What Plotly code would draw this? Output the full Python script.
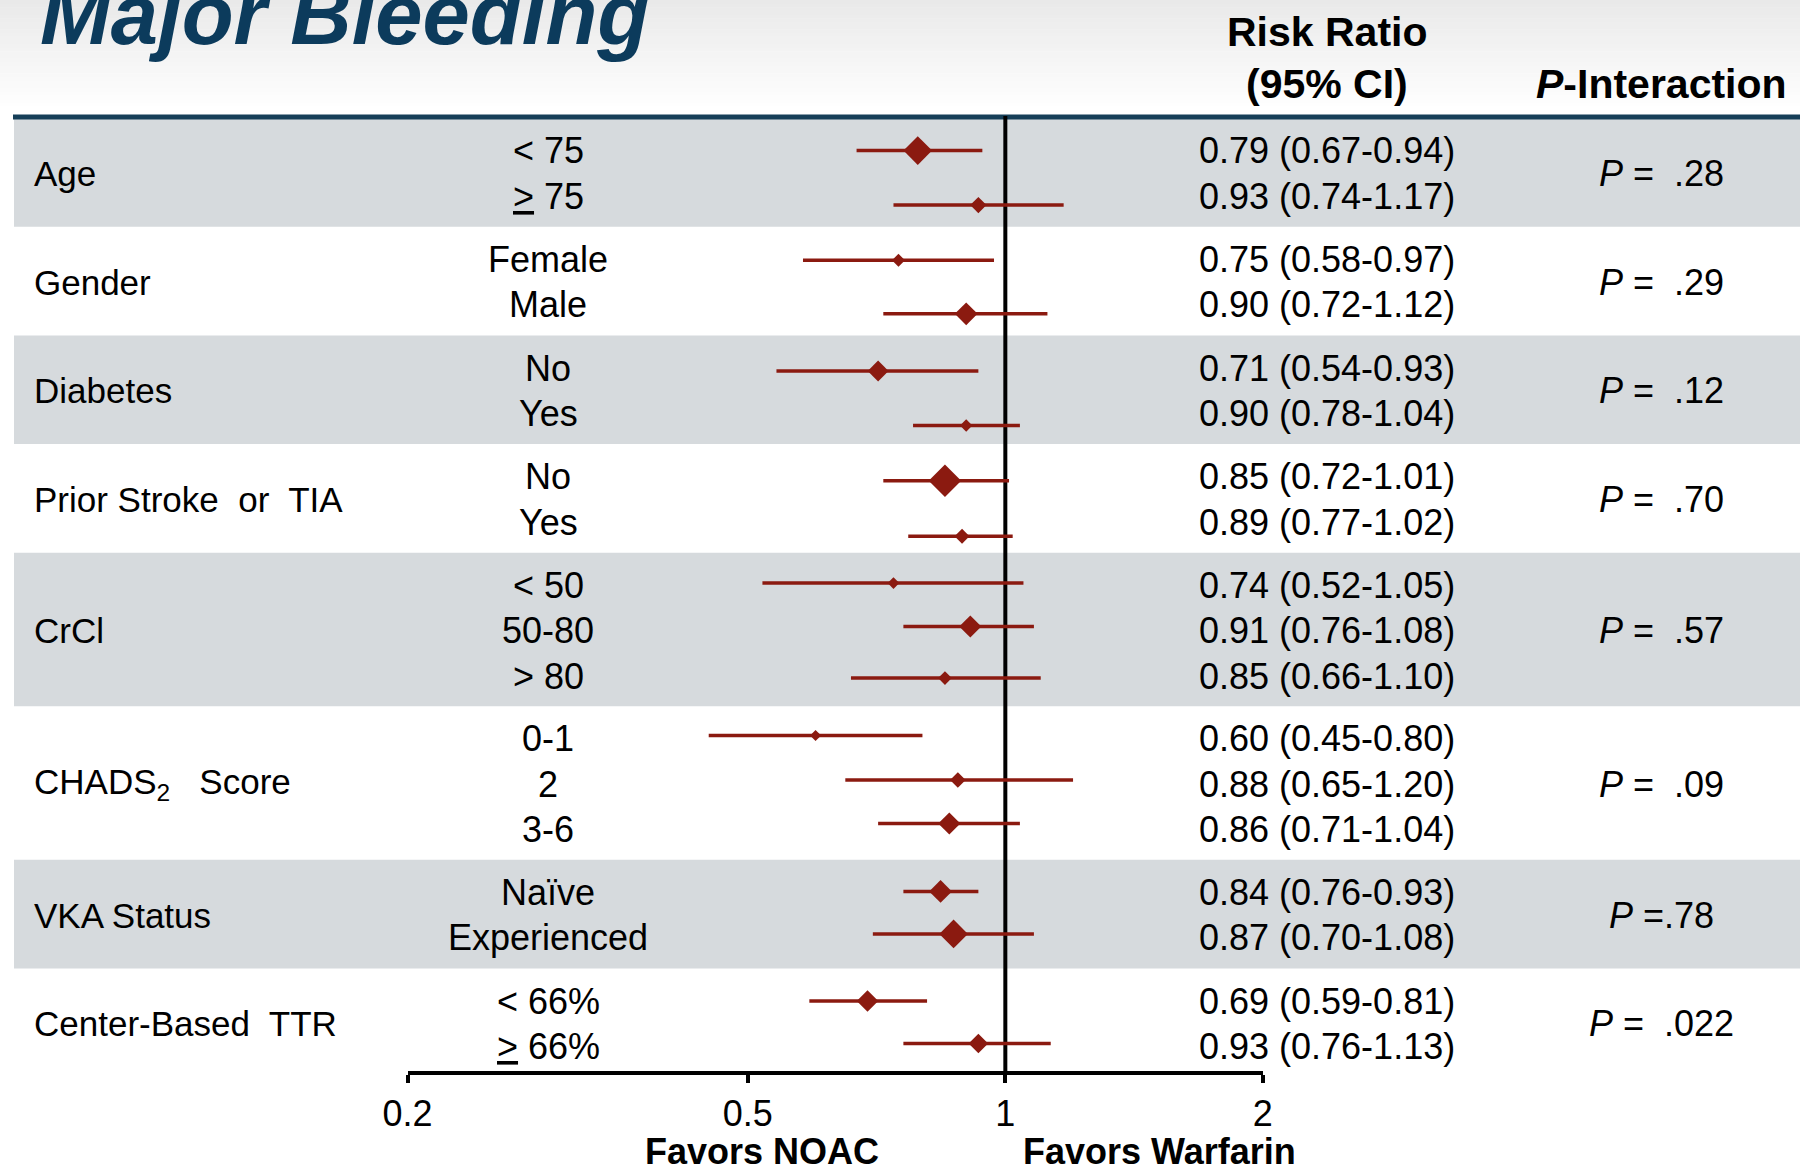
import plotly.graph_objects as go

# ---------------- data ----------------
groups = ["Age", "Gender", "Diabetes", "Prior Stroke\u00a0 or\u00a0 TIA", "CrCl",
          "CHADS<sub>2</sub>\u00a0\u00a0 Score", "VKA Status", "Center-Based\u00a0 TTR"]
subgroups = [["< 75", "<u>></u> 75"],
             ["Female", "Male"],
             ["No", "Yes"],
             ["No", "Yes"],
             ["< 50", "50-80", "> 80"],
             ["0-1", "2", "3-6"],
             ["Naïve", "Experienced"],
             ["< 66%", "<u>></u> 66%"]]
rr = [0.79, 0.93, 0.75, 0.90, 0.71, 0.90, 0.85, 0.89, 0.74, 0.91, 0.85, 0.60, 0.88, 0.86, 0.84, 0.87, 0.69, 0.93]
lo = [0.67, 0.74, 0.58, 0.72, 0.54, 0.78, 0.72, 0.77, 0.52, 0.76, 0.66, 0.45, 0.65, 0.71, 0.76, 0.70, 0.59, 0.76]
hi = [0.94, 1.17, 0.97, 1.12, 0.93, 1.04, 1.01, 1.02, 1.05, 1.08, 1.10, 0.80, 1.20, 1.04, 0.93, 1.08, 0.81, 1.13]
p_values = ["\u00a0.28", "\u00a0.29", "\u00a0.12", "\u00a0.70", "\u00a0.57", "\u00a0.09", ".78", "\u00a0.022"]
p_sep = [" = ", " = ", " = ", " = ", " = ", " = ", " =", " = "]
tick_vals = [0.2, 0.5, 1, 2]
tick_text = ["0.2", "0.5", "1", "2"]

# ---------------- styles / layout ----------------
W, H = 1800, 1171
FONT = "Liberation Sans, Arial, sans-serif"
RED = "#8b1a10"
GRAY = "#d6dadd"
NAVY = "#163f58"
TITLE_C = "#0c3b5c"
marker_sizes = [22, 12.5, 10, 17.5, 16, 9.5, 25, 11.5, 9, 17, 10.5, 8.5, 12, 17, 17.5, 22, 16.5, 15]
marker_dy = [0, 9, 1, 9, 3, 12, 4, 14, -2, -4, 2, -3, -4, -6, -1, -4, 0, -3]

top_y = 118.0      # px from top where the first band starts
row_h = 44.8
pad = 19.1
text_pitch = 45.5
axis_y = 1073.0
x_left_px, x_right_px = 407.5, 1262.8   # pixel positions of 0.2 and 2

def px(x):
    return x / W

shapes = []
annotations = []

# top gradient
n_grad = 30
for i in range(n_grad):
    t = i / (n_grad - 1)
    v = int(round(233 + (255 - 233) * t))
    shapes.append(dict(type="rect", xref="paper", yref="y", x0=0, x1=1,
                       y0=i * 110 / n_grad, y1=(i + 1) * 110 / n_grad + 0.5,
                       fillcolor=f"rgb({v},{v},{v})", line_width=0, layer="below"))

row_y = []
y = top_y
for gi, (g, subs) in enumerate(zip(groups, subgroups)):
    n = len(subs)
    h = n * row_h + pad
    c = y + h / 2 + 1
    if gi % 2 == 0:
        shapes.append(dict(type="rect", xref="paper", yref="y", x0=px(14), x1=1,
                           y0=y, y1=y + h, fillcolor=GRAY, line_width=0, layer="below"))
    annotations.append(dict(x=px(32), y=c, xref="paper", yref="y", text=g,
                            xanchor="left", yanchor="middle", showarrow=False,
                            font=dict(family=FONT, size=35, color="black")))
    annotations.append(dict(x=px(1661), y=c, xref="paper", yref="y",
                            text="<i>P</i>" + p_sep[gi] + p_values[gi],
                            xanchor="center", yanchor="middle", showarrow=False,
                            font=dict(family=FONT, size=36, color="black")))
    for k, s in enumerate(subs):
        ty = c + (k - (n - 1) / 2) * text_pitch
        row_y.append(ty)
        annotations.append(dict(x=px(548), y=ty, xref="paper", yref="y", text=s,
                                xanchor="center", yanchor="middle", showarrow=False,
                                font=dict(family=FONT, size=36, color="black")))
    y += h

for i, ty in enumerate(row_y):
    annotations.append(dict(x=px(1327), y=ty, xref="paper", yref="y",
                            text=f"{rr[i]:.2f} ({lo[i]:.2f}-{hi[i]:.2f})",
                            xanchor="center", yanchor="middle", showarrow=False,
                            font=dict(family=FONT, size=36, color="black")))

# header line
shapes.append(dict(type="rect", xref="paper", yref="y", x0=px(13), x1=1,
                   y0=114.5, y1=119.5, fillcolor=NAVY, line_width=0, layer="below"))

# title and headers
annotations.append(dict(x=px(38), y=14, xref="paper", yref="y", text="<b><i>Major Bleeding</i></b>",
                        xanchor="left", yanchor="middle", showarrow=False,
                        font=dict(family=FONT, size=85, color=TITLE_C)))
annotations.append(dict(x=px(1327), y=32, xref="paper", yref="y", text="<b>Risk Ratio</b>",
                        xanchor="center", yanchor="middle", showarrow=False,
                        font=dict(family=FONT, size=41, color="black")))
annotations.append(dict(x=px(1327), y=84, xref="paper", yref="y", text="<b>(95% CI)</b>",
                        xanchor="center", yanchor="middle", showarrow=False,
                        font=dict(family=FONT, size=41, color="black")))
annotations.append(dict(x=px(1661), y=84, xref="paper", yref="y", text="<b><i>P</i>-Interaction</b>",
                        xanchor="center", yanchor="middle", showarrow=False,
                        font=dict(family=FONT, size=41, color="black")))
annotations.append(dict(x=px(762), y=1151, xref="paper", yref="y", text="<b>Favors NOAC</b>",
                        xanchor="center", yanchor="middle", showarrow=False,
                        font=dict(family=FONT, size=36, color="black")))
annotations.append(dict(x=px(1159), y=1151, xref="paper", yref="y", text="<b>Favors Warfarin</b>",
                        xanchor="center", yanchor="middle", showarrow=False,
                        font=dict(family=FONT, size=36, color="black")))

fig = go.Figure()

# reference line at RR = 1
fig.add_trace(go.Scatter(x=[1, 1], y=[116, axis_y], mode="lines",
                         line=dict(color="black", width=4), hoverinfo="skip"))

marker_y = [ty + d for ty, d in zip(row_y, marker_dy)]
fig.add_trace(go.Scatter(
    x=rr, y=marker_y, mode="markers",
    marker=dict(symbol="diamond", size=marker_sizes, color=RED, opacity=1, line=dict(width=0)),
    error_x=dict(type="data", symmetric=False,
                 array=[h_ - r for h_, r in zip(hi, rr)],
                 arrayminus=[r - l for r, l in zip(rr, lo)],
                 color=RED, thickness=3.5, width=0),
))

fig.update_layout(
    width=W, height=H,
    margin=dict(l=0, r=0, t=0, b=0, pad=0, autoexpand=False),
    paper_bgcolor="white", plot_bgcolor="rgba(0,0,0,0)",
    showlegend=False,
    shapes=shapes, annotations=annotations,
    xaxis=dict(type="log", domain=[px(x_left_px), px(x_right_px)],
               range=[-0.69897, 0.30103], anchor="free",
               position=(H - axis_y) / H, automargin=False,
               showgrid=False, zeroline=False,
               showline=True, linewidth=4, linecolor="black",
               ticks="outside", ticklen=8, tickwidth=4, tickcolor="black",
               tickvals=tick_vals, ticktext=tick_text,
               tickfont=dict(family=FONT, size=36, color="black")),
    yaxis=dict(range=[H, 0], domain=[0, 1], visible=False, automargin=False,
               showgrid=False, zeroline=False),
)

fig.write_html("out.html")
